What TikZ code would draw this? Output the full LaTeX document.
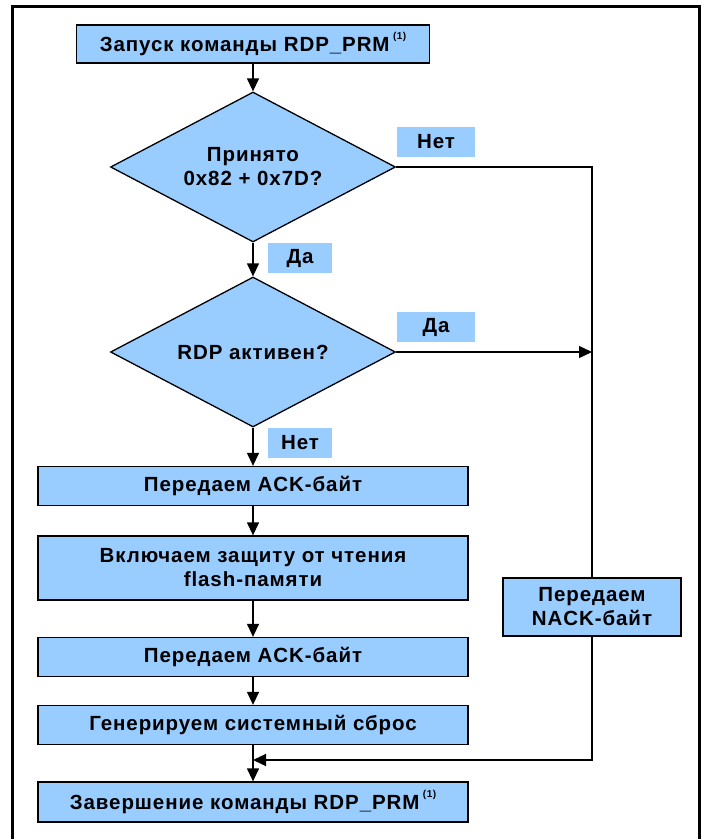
\documentclass[tikz,border=0pt]{standalone}
\usepackage{fontspec}
\setmainfont{Liberation Sans}[LetterSpace=4.5]
\usetikzlibrary{arrows.meta,positioning,shapes.geometric}
\definecolor{boxblue}{HTML}{99CCFF}
\newcommand{\fnmark}{\,\raisebox{1.1ex}{\fontsize{10}{10}\selectfont(1)}}
\tikzset{
  block/.style={draw,line width=1.3pt,fill=boxblue,inner sep=0pt,align=center,
    font=\fontsize{20.5}{24}\selectfont\bfseries},
  decision/.style={block,diamond,aspect=1.9},
  answer/.style={fill=boxblue,inner sep=0pt,minimum height=30pt,
    font=\fontsize{20.5}{24}\selectfont\bfseries},
  flow/.style={-{Triangle[length=13pt,width=12pt]},line width=1.3pt},
  plain/.style={line width=1.3pt},
}

\begin{document}
\begin{tikzpicture}[x=1pt,y=-1pt]
\useasboundingbox (0,0) rectangle (709,839);
% frame
\draw[line width=3pt] (12,839) -- (12,6) -- (699,6) -- (699,839);

\node[block,minimum width=353pt,minimum height=38pt] (start) at (253,44)
  {Запуск команды RDP\_PRM\fnmark};
\node[decision,minimum width=285pt,minimum height=150pt] (recv) at (253,167)
  {Принято\\0x82 + 0x7D?};
\node[decision,minimum width=285pt,minimum height=150pt] (rdpact) at (253,352)
  {RDP активен?};
\node[block,minimum width=430pt,minimum height=39pt] (ack1) at (253,486) {Передаем ACK-байт};
\node[block,minimum width=430pt,minimum height=64pt] (protect) at (253,568)
  {Включаем защиту от чтения\\flash-памяти};
\node[block,minimum width=430pt,minimum height=39pt] (ack2) at (253,657) {Передаем ACK-байт};
\node[block,minimum width=430pt,minimum height=39pt] (reset) at (253,725) {Генерируем системный сброс};
\node[block,minimum width=430pt,minimum height=40pt] (finish) at (253,802)
  {Завершение команды RDP\_PRM\fnmark};
\node[block,minimum width=178pt,minimum height=58pt] (nack) at (592,607)
  {Передаем\\NACK-байт};

% answers
\node[answer,minimum width=78pt] (no1) at (436,142) {Нет};
\node[answer,minimum width=64pt] (yes1) at (300,258) {Да};
\node[answer,minimum width=78pt] (yes2) at (436,327) {Да};
\node[answer,minimum width=64pt] (no2) at (300,443) {Нет};

\coordinate (join) at (592,760);

\draw[flow] (start) -- (recv);
\draw[flow] (recv) -- (rdpact);
\draw[flow] (rdpact) -- (ack1);
\draw[flow] (ack1) -- (protect);
\draw[flow] (protect) -- (ack2);
\draw[flow] (ack2) -- (reset);
\draw[flow] (reset) -- (finish);
\draw[plain] (recv.east) -- (nack.north |- recv.east) -- (nack.north);
\draw[flow] (rdpact.east) -- (nack.north |- rdpact.east);
\draw[flow] (nack.south) -- (join) -- (reset.south |- join);
\end{tikzpicture}
\end{document}
